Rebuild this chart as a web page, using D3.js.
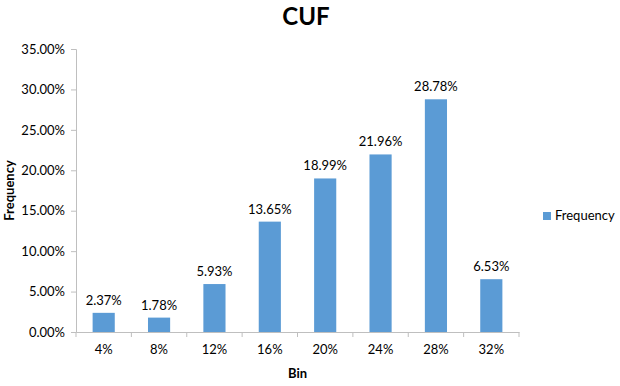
<!DOCTYPE html>
<html>
<head>
<meta charset="utf-8">
<script src="https://cdn.jsdelivr.net/npm/d3@7"></script>
<style>
  body { margin: 0; background: #fff; }
  text { font-family: Lato, "Open Sans", sans-serif; fill: #000; }
</style>
</head>
<body>
<div id="chart"></div>
<script>
var bins = ["4%", "8%", "12%", "16%", "20%", "24%", "28%", "32%"];
var frequency = [2.37, 1.78, 5.93, 13.65, 18.99, 21.96, 28.78, 6.53];
var yTicks = [0, 5, 10, 15, 20, 25, 30, 35];

var margin = {top: 49, right: 101, bottom: 54, left: 76}
    , width = 620 - margin.left - margin.right
    , height = 386 - margin.top - margin.bottom;

var svg = d3.select("#chart").append("svg")
    .attr("width", 620)
    .attr("height", 386);

var main = svg.append("g")
    .attr("transform", "translate(" + margin.left + "," + margin.top + ")");

var x = d3.scaleBand()
    .domain(bins)
    .range([0, width])
    .paddingInner(0.6)
    .paddingOuter(0.3);

var y = d3.scaleLinear()
    .domain([0, 35])
    .range([height, 0]);

// y axis
var yAxis = main.append("g")
    .call(d3.axisLeft(y).tickValues(yTicks).tickSize(5).tickPadding(6)
        .tickFormat(function (d) { return d.toFixed(2) + "%"; }));
yAxis.selectAll("text").style("font-size", "13px");

// x axis, ticks sit between categories
var xAxis = main.append("g")
    .attr("transform", "translate(0," + height + ")")
    .call(d3.axisBottom(x).tickSize(0).tickPadding(13));
xAxis.selectAll("text").style("font-size", "13px");

var step = x.step();
xAxis.selectAll(".sep")
    .data(d3.range(bins.length + 1))
    .enter().append("line")
    .attr("class", "sep")
    .attr("x1", function (i) { return i * width / bins.length; })
    .attr("x2", function (i) { return i * width / bins.length; })
    .attr("y1", 0)
    .attr("y2", 5);

svg.selectAll(".domain, .tick line, .sep")
    .attr("stroke", "#bfbfbf");

main.selectAll(".bar")
    .data(frequency)
    .enter().append("rect")
    .attr("class", "bar")
    .attr("x", function (d, i) { return x(bins[i]); })
    .attr("y", function (d) { return y(d); })
    .attr("width", x.bandwidth())
    .attr("height", function (d) { return height - y(d); })
    .style("fill", "#5b9bd5");

main.selectAll(".lbl")
    .data(frequency)
    .enter().append("text")
    .attr("class", "lbl")
    .attr("x", function (d, i) { return x(bins[i]) + x.bandwidth() / 2; })
    .attr("y", function (d) { return y(d) - 8; })
    .attr("text-anchor", "middle")
    .style("font-size", "13px")
    .text(function (d) { return d.toFixed(2) + "%"; });

// title
svg.append("text")
    .attr("x", 306)
    .attr("y", 25)
    .attr("text-anchor", "middle")
    .style("font-size", "24px")
    .style("font-weight", "bold")
    .text("CUF");

// axis titles
svg.append("text")
    .attr("x", margin.left + width / 2)
    .attr("y", 378)
    .attr("text-anchor", "middle")
    .style("font-size", "13px")
    .style("font-weight", "bold")
    .text("Bin");

svg.append("text")
    .attr("transform", "translate(14," + (margin.top + height / 2) + ") rotate(-90)")
    .attr("text-anchor", "middle")
    .style("font-size", "13px")
    .style("font-weight", "bold")
    .text("Frequency");

// legend
var legend = svg.append("g").attr("transform", "translate(543,212)");
legend.append("rect")
    .attr("width", 8)
    .attr("height", 8)
    .style("fill", "#5b9bd5");
legend.append("text")
    .attr("x", 12)
    .attr("y", 8)
    .style("font-size", "13px")
    .text("Frequency");
</script>
</body>
</html>
